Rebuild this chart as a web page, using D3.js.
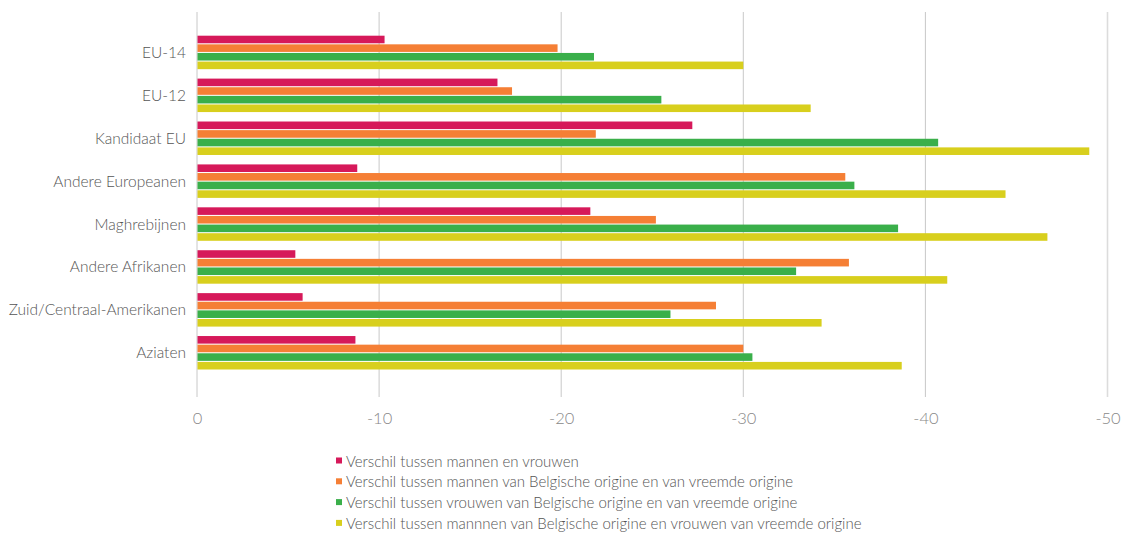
<!DOCTYPE html>
<html><head><meta charset="utf-8">
<script src="https://cdn.jsdelivr.net/npm/d3@7/dist/d3.min.js"></script>
<style>
body{margin:0;background:#fff;}
text{font-family:Lato,"Open Sans",sans-serif;font-weight:300;}
</style></head>
<body>
<svg id="chart" width="1127" height="536"></svg>
<script>
const categories = ["EU-14","EU-12","Kandidaat EU","Andere Europeanen","Maghrebijnen","Andere Afrikanen","Zuid/Centraal-Amerikanen","Aziaten"];
const seriesNames = [
  "Verschil tussen mannen en vrouwen",
  "Verschil tussen mannen van Belgische origine en van vreemde origine",
  "Verschil tussen vrouwen van Belgische origine en van vreemde origine",
  "Verschil tussen mannnen van Belgische origine en vrouwen van vreemde origine"
];
const mannenVrouwen      = [-10.3,-16.5,-27.2,-8.8,-21.6,-5.4,-5.8,-8.7];
const mannenOrigine      = [-19.8,-17.3,-21.9,-35.6,-25.2,-35.8,-28.5,-30.0];
const vrouwenOrigine     = [-21.8,-25.5,-40.7,-36.1,-38.5,-32.9,-26.0,-30.5];
const mannenVrouwenOrig  = [-30.0,-33.7,-49.0,-44.4,-46.7,-41.2,-34.3,-38.7];
const tickValues = [0,-10,-20,-30,-40,-50];
const colors = ["#d6195a","#f57f35","#3aaf4a","#d8cf1d"];

const series = [mannenVrouwen, mannenOrigine, vrouwenOrigine, mannenVrouwenOrig];
const svg = d3.select("#chart");

const x = d3.scaleLinear().domain([0,-50]).range([197,1107.5]);
const y = d3.scaleBand().domain(categories).range([35.7,369.5]).paddingInner(0.22).paddingOuter(0);
const ySub = d3.scaleBand().domain(d3.range(4)).range([0,y.bandwidth()]).paddingInner(0.12);

// gridlines
svg.append("g").selectAll("line").data(tickValues).join("line")
  .attr("x1",d=>x(d)).attr("x2",d=>x(d))
  .attr("y1",12).attr("y2",397)
  .attr("stroke",d=>d===-50?"#dcdcdc":"#c8c8c8")
  .attr("stroke-width",d=>d===-50?1.6:1);

// bars
const groups = svg.append("g").selectAll("g").data(categories).join("g")
  .attr("transform",c=>`translate(0,${y(c)})`);
groups.selectAll("rect").data((c,i)=>series.map((s,k)=>({k,v:s[i]}))).join("rect")
  .attr("x",d=>x(0)+0.5)
  .attr("y",d=>ySub(d.k))
  .attr("width",d=>x(d.v)-x(0)-0.5)
  .attr("height",ySub.bandwidth())
  .attr("fill",d=>colors[d.k]);

// category labels
svg.append("g").selectAll("text").data(categories).join("text")
  .attr("x",186).attr("y",c=>y(c)+y.bandwidth()/2-0.5)
  .attr("text-anchor","end").attr("dominant-baseline","central")
  .attr("fill","#555").attr("font-size",15.5).text(c=>c);

// x axis labels
const xAxis = d3.axisBottom(x).tickValues(tickValues).tickSize(0).tickPadding(0).tickFormat(d=>d3.format("d")(d).replace("−","-"));
const ax = svg.append("g").attr("transform","translate(0,412)").call(xAxis);
ax.select(".domain").remove();
ax.selectAll("text").attr("font-size",16.5).attr("fill","#888").attr("font-family","Lato,sans-serif").attr("font-weight",300);

// legend
const leg = svg.append("g").selectAll("g").data(seriesNames).join("g")
  .attr("transform",(d,i)=>`translate(336,${460.5+i*20.8})`);
leg.append("rect").attr("x",0).attr("y",-3).attr("width",6).attr("height",6).attr("fill",(d,i)=>colors[i]);
leg.append("text").attr("x",10).attr("y",0).attr("dominant-baseline","central")
  .attr("font-size",15).attr("fill","#555").text(d=>d);
</script>
</body></html>
